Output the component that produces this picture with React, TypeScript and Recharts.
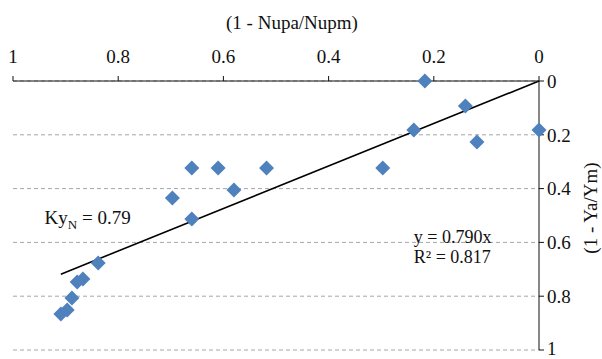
import React from 'react';
import { ScatterChart, Scatter, XAxis, YAxis, CartesianGrid, ReferenceLine, ReferenceDot } from 'recharts';

// measured points: x = (1 - Nupa/Nupm), y = (1 - Ya/Ym)
const xValues = [0.217, 0.14, 0.238, 0.0, 0.118, 0.297, 0.518, 0.61, 0.66, 0.58, 0.697, 0.66, 0.838, 0.867, 0.878, 0.888, 0.897, 0.909];
const yValues = [0.0, 0.093, 0.182, 0.182, 0.227, 0.323, 0.323, 0.323, 0.323, 0.405, 0.435, 0.513, 0.677, 0.736, 0.747, 0.807, 0.851, 0.866];

const xTicks = [0, 0.2, 0.4, 0.6, 0.8, 1];
const yTicks = [0, 0.2, 0.4, 0.6, 0.8, 1];

// fitted line y = 0.790x, drawn over the data range
const trendStart = { x: 0, y: 0 };
const trendEnd = { x: 0.909, y: 0.718 };

const points = xValues.map((x, i) => ({ x, y: yValues[i] }));

const FONT = 'Liberation Serif';

const Diamond = (props: any) => {
  const { cx, cy } = props;
  const r = 7.5;
  return (
    <polygon
      points={`${cx},${cy - r} ${cx + r},${cy} ${cx},${cy + r} ${cx - r},${cy}`}
      fill="#4f81bd"
    />
  );
};

const tickStyle = { fontFamily: FONT, fontSize: 19, fill: '#111' };

export default function App() {
  return (
    <div style={{ position: 'absolute', left: 0, top: 0, background: '#fff', fontFamily: FONT }}>
      <ScatterChart width={602} height={359} margin={{ top: 0, right: 0, bottom: 9, left: 13 }} style={{ fontFamily: FONT }}>
        <CartesianGrid vertical={false} stroke="#a6a6a6" strokeDasharray="4 3" />
        <XAxis
          type="number"
          dataKey="x"
          orientation="top"
          domain={[0, 1]}
          reversed
          ticks={xTicks}
          height={81}
          tickSize={5}
          tickMargin={13}
          stroke="#111"
          tick={tickStyle}
          label={{
            content: () => (
              <text x={292} y={29} textAnchor="middle" fontFamily={FONT} fontSize={19} fill="#111">
                (1 - Nupa/Nupm)
              </text>
            ),
          }}
        />
        <YAxis
          type="number"
          dataKey="y"
          orientation="right"
          domain={[0, 1]}
          reversed
          ticks={yTicks}
          width={63}
          tickSize={5}
          tickMargin={3}
          stroke="#111"
          tick={tickStyle}
          label={{
            content: ({ viewBox }: any) => {
              const cx = viewBox.x + viewBox.width - 12;
              const cy = 208;
              return (
                <text
                  x={cx}
                  y={cy}
                  textAnchor="middle"
                  dominantBaseline="central"
                  transform={`rotate(-90 ${cx} ${cy})`}
                  fontFamily={FONT}
                  fontSize={19}
                  fill="#111"
                >
                  (1 - Ya/Ym)
                </text>
              );
            },
          }}
        />
        <ReferenceLine segment={[trendStart, trendEnd]} stroke="#000" strokeWidth={1.6} />
        <Scatter data={points} shape={<Diamond />} isAnimationActive={false} />
        <ReferenceDot
          x={0.94}
          y={0.53}
          r={0}
          shape={(p: any) => (
            <text x={p.cx} y={p.cy} fontFamily={FONT} fontSize={19} fill="#111">
              Ky<tspan fontSize={13} dy={5}>N</tspan>
              <tspan dy={-5}> = 0.79</tspan>
            </text>
          )}
        />
        <ReferenceDot
          x={0.238}
          y={0.602}
          r={0}
          shape={(p: any) => (
            <text x={p.cx} y={p.cy} fontFamily={FONT} fontSize={18} fill="#111">
              y = 0.790x
            </text>
          )}
        />
        <ReferenceDot
          x={0.238}
          y={0.677}
          r={0}
          shape={(p: any) => (
            <text x={p.cx} y={p.cy} fontFamily={FONT} fontSize={18} fill="#111">
              R² = 0.817
            </text>
          )}
        />
      </ScatterChart>
    </div>
  );
}
